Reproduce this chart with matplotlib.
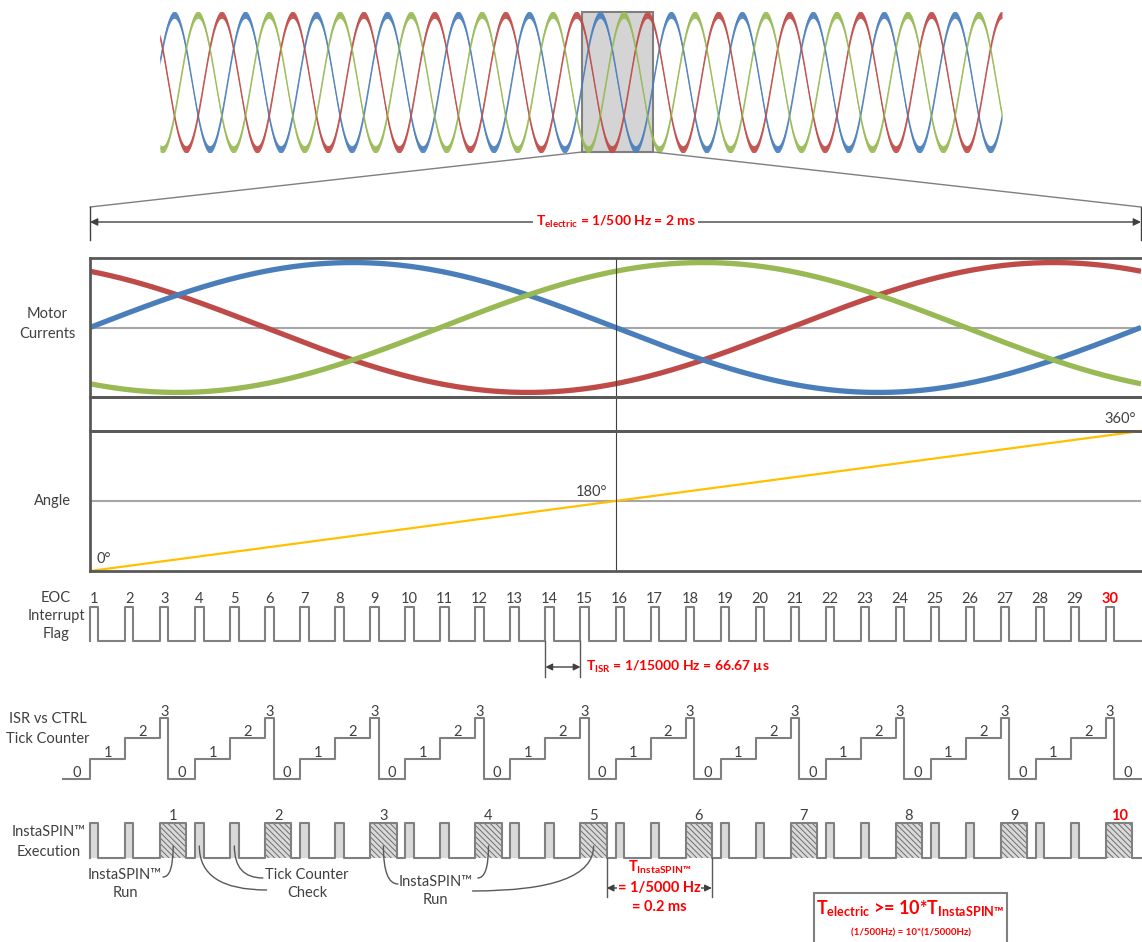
import numpy as np
import matplotlib
matplotlib.use("Agg")
import matplotlib.pyplot as plt
from matplotlib.patches import ConnectionPatch, Rectangle

W, H = 1142, 942

plt.rcParams['font.family'] = ['Lato', 'DejaVu Sans']
plt.rcParams['mathtext.fontset'] = 'custom'
plt.rcParams['mathtext.rm'] = 'Lato'
plt.rcParams['mathtext.bf'] = 'Lato:bold'
plt.rcParams['mathtext.it'] = 'Lato:italic'
plt.rcParams['hatch.linewidth'] = 0.7

# ---- data ----
PHASE_SHIFT_DEG = [0, 120, -120]
PHASE_COLORS = ['#4A7EBB', '#BE4B48', '#98B954']

T_ELECTRIC_MS = 2.0        # 1/500 Hz
ISR_PER_ELECTRIC = 30      # 15 kHz ISR
CTRL_DIV = 3               # InstaSPIN every 3rd ISR -> 5 kHz
EOC_PULSE_MS = 0.016
RUN_MS = 0.05
TICK_LEAD_MS = -0.052

TOP_SPAN_MS = [-11.9, 11.83]
ANGLE_T = [0.0, 2.0]
ANGLE_DEG = [0, 360]

TXT = '#404040'
EDGE = '#808080'
RED = '#FF0000'

fig = plt.figure(figsize=(W / 100, H / 100), dpi=100)


def px_axes(x0, y0, x1, y1):
    ax = fig.add_axes([x0 / W, 1 - y1 / H, (x1 - x0) / W, (y1 - y0) / H])
    ax.set_xticks([])
    ax.set_yticks([])
    for s in ax.spines.values():
        s.set_visible(False)
    ax.patch.set_alpha(0)
    return ax


def fig_text(x, y, s, **kw):
    kw.setdefault('color', TXT)
    kw.setdefault('fontsize', 10.5)
    kw.setdefault('linespacing', 1.5)
    fig.text(x / W, 1 - y / H, s, ha='center', va='center', **kw)


X0, X1 = 90, 1141

# ---- top overview waves ----
ax_top = px_axes(160, 12, 1002, 152)
ax_top.set_xlim(*TOP_SPAN_MS)
ax_top.set_ylim(-1.04, 1.04)
ax_top.axvspan(0, T_ELECTRIC_MS, facecolor='#D4D4D4', edgecolor='#7F7F7F',
               lw=1.5, zorder=0, clip_on=False)
tt = np.linspace(TOP_SPAN_MS[0], TOP_SPAN_MS[1], 3000)
for sh, c in zip(PHASE_SHIFT_DEG, PHASE_COLORS):
    y = np.sin(2 * np.pi * tt / T_ELECTRIC_MS + np.radians(sh))
    ax_top.fill_between(tt, y - 0.055, y + 0.055, color=c, lw=0, alpha=0.9)
    ax_top.plot(tt, y, color=c, lw=0.7, alpha=0.8)

# ---- motor currents ----
t = np.linspace(0, T_ELECTRIC_MS, 600)
ax_cur = px_axes(X0, 258, X1, 397)
ax_cur.set_xlim(0, T_ELECTRIC_MS)
ax_cur.set_ylim(-1.07, 1.07)
ax_cur.axhline(0, color='#A6A6A6', lw=1.5)
for sh, c in zip([120, 0, -120], [PHASE_COLORS[1], PHASE_COLORS[0], PHASE_COLORS[2]]):
    ax_cur.plot(t, np.sin(2 * np.pi * t / T_ELECTRIC_MS + np.radians(sh)),
                color=c, lw=3.8, solid_capstyle='butt')

ax_gap = px_axes(X0, 397, X1, 431)
ax_gap.set_xlim(0, T_ELECTRIC_MS)

ax_ang = px_axes(X0, 431, X1, 571)
ax_ang.set_xlim(0, T_ELECTRIC_MS)
ax_ang.set_ylim(0, 360)
ax_ang.axhline(180, color='#A6A6A6', lw=1.5)
ax_ang.plot(ANGLE_T, ANGLE_DEG, color='#FFC000', lw=1.6, clip_on=False)
ax_ang.text(0.012, 14, '0°', color=TXT, fontsize=10.5, ha='left', va='bottom')
ax_ang.text(0.985, 186, '180°', color=TXT, fontsize=10.5, ha='right', va='bottom')
ax_ang.text(1.99, 392, '360°', color=TXT, fontsize=10.5, ha='right', va='center',
            clip_on=False)

for ax in (ax_cur, ax_gap, ax_ang):
    ax.axvline(T_ELECTRIC_MS / 2, color='#404040', lw=0.8)
    for side in ('top', 'bottom', 'left'):
        ax.spines[side].set_visible(True)
        ax.spines[side].set_color('#595959')
        ax.spines[side].set_linewidth(2)

# ---- ISR timing rows ----
t_isr = np.arange(ISR_PER_ELECTRIC) * T_ELECTRIC_MS / ISR_PER_ELECTRIC

# EOC interrupt flag
ax_eoc = px_axes(X0, 607, X1, 641)
ax_eoc.set_xlim(0, T_ELECTRIC_MS)
ax_eoc.set_ylim(0, 1)
ex, ey = [0.0], [0]
for t0 in t_isr:
    ex += [t0, t0, t0 + EOC_PULSE_MS, t0 + EOC_PULSE_MS]
    ey += [0, 1, 1, 0]
ex.append(T_ELECTRIC_MS)
ey.append(0)
ax_eoc.plot(ex, ey, color=EDGE, lw=1.5, clip_on=False)
for k, t0 in enumerate(t_isr):
    last = k == len(t_isr) - 1
    ax_eoc.text(t0 + EOC_PULSE_MS / 2, 1.13, str(k + 1), ha='center', va='baseline',
                fontsize=10.5, color=RED if last else TXT,
                fontweight='bold' if last else 'normal')

# tick counter
ax_tick = px_axes(X0, 718, X1, 779)
ax_tick.set_xlim(0, T_ELECTRIC_MS)
ax_tick.set_ylim(0, 3)
tx, ty = [TICK_LEAD_MS], [0]
seg_start, seg_lvl = TICK_LEAD_MS, 0
segments = []
for k, t0 in enumerate(t_isr):
    lvl = k % CTRL_DIV + 1
    segments.append((seg_start, t0, seg_lvl))
    tx += [t0, t0]
    ty += [ty[-1], lvl]
    seg_start, seg_lvl = t0, lvl
    if lvl == CTRL_DIV:
        te = t0 + EOC_PULSE_MS
        segments.append((seg_start, te, lvl))
        tx += [te, te]
        ty += [lvl, 0]
        seg_start, seg_lvl = te, 0
segments.append((seg_start, T_ELECTRIC_MS, seg_lvl))
tx.append(T_ELECTRIC_MS)
ty.append(0)
ax_tick.plot(tx, ty, color=EDGE, lw=1.5, clip_on=False)
for a, b, lvl in segments:
    ax_tick.text((a + b) / 2, lvl + 0.1, str(lvl), ha='center', va='baseline',
                 fontsize=10.5, color=TXT, clip_on=False)

# InstaSPIN execution
ax_ex = px_axes(X0, 823, X1, 858)
ax_ex.set_xlim(0, T_ELECTRIC_MS)
ax_ex.set_ylim(0, 1)
is_run = (np.arange(ISR_PER_ELECTRIC) % CTRL_DIV) == CTRL_DIV - 1
widths = np.where(is_run, RUN_MS, EOC_PULSE_MS)
ax_ex.bar(t_isr[~is_run], 1, width=widths[~is_run], align='edge',
          color='#D9D9D9', lw=0, clip_on=False)
ax_ex.bar(t_isr[is_run], 1, width=widths[is_run], align='edge',
          facecolor='#D9D9D9', edgecolor='#6E6E6E', lw=0, hatch='\\\\\\\\\\\\',
          clip_on=False)
xx, xy = [0.0], [0]
for t0, w in zip(t_isr, widths):
    xx += [t0, t0, t0 + w, t0 + w]
    xy += [0, 1, 1, 0]
xx.append(T_ELECTRIC_MS)
xy.append(0)
ax_ex.plot(xx, xy, color=EDGE, lw=1.5, clip_on=False)
run_starts = t_isr[is_run]
for i, t0 in enumerate(run_starts):
    last = i == len(run_starts) - 1
    ax_ex.text(t0 + RUN_MS / 2, 1.08, str(i + 1), ha='center', va='baseline',
               fontsize=10.5, color=RED if last else TXT,
               fontweight='bold' if last else 'normal')

# ---- annotation layer (x in ms, y in px) ----
ax_n = px_axes(X0, 0, X1, H)
ax_n.set_xlim(0, T_ELECTRIC_MS)
ax_n.set_ylim(H, 0)
ax_n.set_zorder(5)

for xa in (0, T_ELECTRIC_MS):
    ax_n.plot([xa, xa], [207, 240], color='#404040', lw=1, clip_on=False)
for xa, xb in ((0, 0), (T_ELECTRIC_MS, T_ELECTRIC_MS)):
    fig.add_artist(ConnectionPatch(xyA=(xa, -1.04), coordsA=ax_top.transData,
                                   xyB=(xb, 207), coordsB=ax_n.transData,
                                   color='#7F7F7F', lw=1))
ax_n.annotate('', xy=(0, 222), xytext=(T_ELECTRIC_MS, 222), annotation_clip=False,
              arrowprops=dict(arrowstyle='<|-|>', color='#404040', lw=1,
                              mutation_scale=11, shrinkA=0, shrinkB=0))
ax_n.text(T_ELECTRIC_MS / 2, 222, r'$\mathbf{T}_{\mathbf{electric}}$ = 1/500 Hz = 2 ms',
          color=RED, fontsize=10, fontweight='bold', ha='center', va='center',
          bbox=dict(facecolor='white', edgecolor='none', pad=1.5))

# T_ISR
i0, i1 = 13, 14
for tv in (t_isr[i0], t_isr[i1]):
    ax_n.plot([tv, tv], [641, 677], color='#595959', lw=1)
ax_n.annotate('', xy=(t_isr[i0], 667), xytext=(t_isr[i1], 667),
              arrowprops=dict(arrowstyle='<|-|>', color='#404040', lw=1,
                              mutation_scale=10, shrinkA=0, shrinkB=0))
ax_n.text(t_isr[i1] + 0.01, 667, r'$\mathbf{T}_{\mathbf{ISR}}$ = 1/15000 Hz = 66.67 µs',
          color=RED, fontsize=10, fontweight='bold', ha='left', va='center')

# T_InstaSPIN
r0, r1 = run_starts[4] + RUN_MS, run_starts[5] + RUN_MS
for tv in (r0, r1):
    ax_n.plot([tv, tv], [858, 897], color='#595959', lw=1)
ax_n.annotate('', xy=(r0, 888), xytext=(r1, 888),
              arrowprops=dict(arrowstyle='<|-|>', color='#404040', lw=1,
                              mutation_scale=10, shrinkA=0, shrinkB=0))
rm = (r0 + r1) / 2
ax_n.text(rm, 867, r'$\mathbf{T}_{\mathbf{InstaSPIN™}}$', color=RED, fontsize=10.5,
          ha='center', va='center')
ax_n.text(rm, 888, '= 1/5000 Hz', color=RED, fontsize=10.5, fontweight='bold',
          ha='center', va='center', bbox=dict(facecolor='white', edgecolor='none', pad=0.5))
ax_n.text(rm, 907, '= 0.2 ms', color=RED, fontsize=10.5, fontweight='bold',
          ha='center', va='center')


# callouts
def callout(start, end_x, end_y=846):
    ax_n.annotate('', xy=(end_x, end_y), xytext=start, annotation_clip=False,
                  arrowprops=dict(arrowstyle='-', color='#595959', lw=1,
                                  connectionstyle='angle3,angleA=0,angleB=90',
                                  shrinkA=0, shrinkB=0))


pulse_c = t_isr + EOC_PULSE_MS / 2
run_c = run_starts + RUN_MS / 2
ax_n.text(0.067, 884, 'InstaSPIN™\nRun', color=TXT, fontsize=10.5, ha='center',
          va='center', linespacing=1.45)
callout((0.139, 877), run_c[0])
ax_n.text(0.413, 884, 'Tick Counter\nCheck', color=TXT, fontsize=10.5, ha='center',
          va='center', linespacing=1.45)
callout((0.329, 878), pulse_c[4])
callout((0.336, 890), pulse_c[3])
ax_n.text(0.658, 891, 'InstaSPIN™\nRun', color=TXT, fontsize=10.5, ha='center',
          va='center', linespacing=1.45)
callout((0.586, 884), run_c[2])
callout((0.738, 878), run_c[3])
callout((0.728, 891), run_c[4])

# bottom box
bx0, bx1 = 1.378, 1.745
ax_n.add_patch(Rectangle((bx0, 893), bx1 - bx0, 60, facecolor='white',
                         edgecolor='#7F7F7F', lw=1.5, clip_on=False))
bc = (bx0 + bx1) / 2
ax_n.text(bc, 909, r'$\mathbf{T}_{\mathbf{electric}}$ >= 10*$\mathbf{T}_{\mathbf{InstaSPIN™}}$',
          color=RED, fontsize=13, fontweight='bold', ha='center', va='center')
ax_n.text(bc, 933, '(1/500Hz) = 10*(1/5000Hz)', color=RED, fontsize=7,
          fontweight='bold', ha='center', va='center')

# ---- row labels ----
fig_text(47, 324, 'Motor\nCurrents')
fig_text(52, 501, 'Angle')
fig_text(56, 616, 'EOC\nInterrupt\nFlag', linespacing=1.4)
fig_text(48, 729, 'ISR vs CTRL\nTick Counter')
fig_text(49, 842, 'InstaSPIN™\nExecution')

fig.savefig('out.png', dpi=100, facecolor='white')
